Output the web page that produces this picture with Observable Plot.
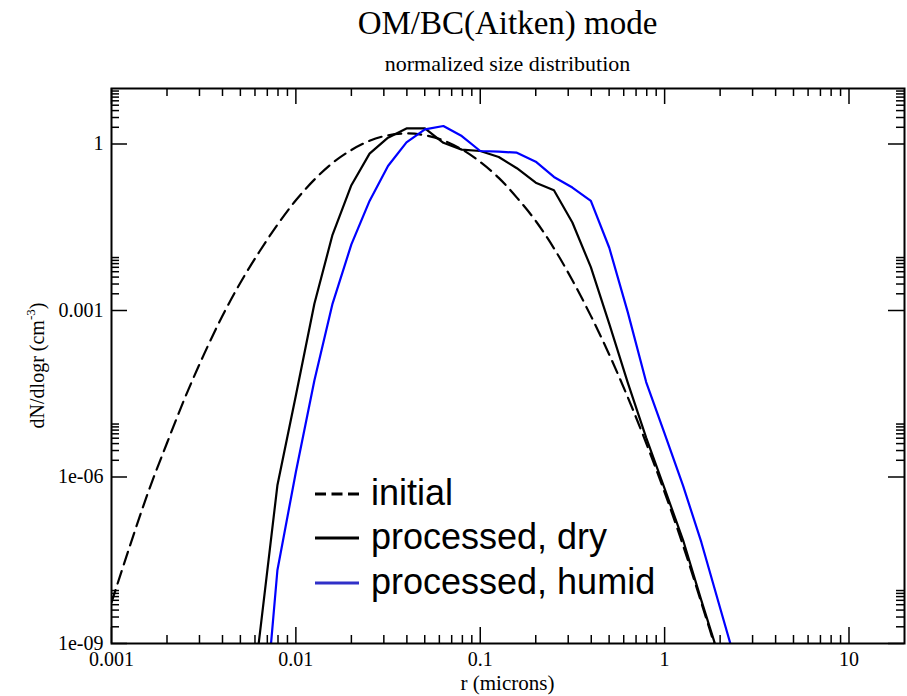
<!DOCTYPE html>
<html><head><meta charset="utf-8">
<script src="https://cdn.jsdelivr.net/npm/d3@7"></script>
<script src="https://cdn.jsdelivr.net/npm/@observablehq/plot@0.6"></script>
<style>html,body{margin:0;padding:0;background:#fff;} #chart{width:907px;height:696px;}</style>
</head><body><div id="chart"></div>
<script>
// radius (microns) at which the curves were read
const r = [0.001, 0.00126, 0.00158, 0.002, 0.00251, 0.00316, 0.00398, 0.00501, 0.00631, 0.00794,
  0.01, 0.0126, 0.0158, 0.02, 0.0251, 0.0316, 0.0398, 0.0501, 0.0631, 0.0794,
  0.1, 0.126, 0.158, 0.2, 0.251, 0.316, 0.398, 0.501, 0.631, 0.794,
  1, 1.26, 1.58, 2, 2.51];
// dN/dlogr
const initial = [5.5e-9, 5.8e-8, 5.3e-7, 4.1e-6, 2.74e-5, 1.57e-4, 7.8e-4, 3.2e-3, 0.0112, 0.035,
  0.097, 0.228, 0.455, 0.78, 1.14, 1.436, 1.549, 1.44, 1.16, 0.80,
  0.475, 0.245, 0.108, 0.041, 0.0132, 3.5e-3, 8.0e-4, 1.6e-4, 2.74e-5, 4.1e-6,
  5.3e-7, 5.8e-8, 5.5e-9, 4.5e-10, null];
const dry = [null, null, null, null, null, null, null, 1e-12, 1.12e-9, 7.08e-7,
  2.95e-5, 1.32e-3, 0.0231, 0.181, 0.67, 1.30, 1.91, 1.91, 1.05, 0.791,
  0.748, 0.583, 0.366, 0.201, 0.147, 0.0385, 6.03e-3, 5.75e-4, 5.01e-5, 5.13e-6,
  6.17e-7, 7.24e-8, 6.03e-9, 5.0e-10, null];
const humid = [null, null, null, null, null, null, null, null, 3.2e-12, 2.09e-8,
  1.23e-6, 5.5e-5, 1.32e-3, 0.0155, 0.0944, 0.402, 1.07, 1.84, 2.11, 1.39,
  0.748, 0.728, 0.698, 0.481, 0.255, 0.164, 0.0944, 0.0135, 9.33e-4, 5.13e-5,
  6.03e-6, 6.92e-7, 6.76e-8, 4.37e-9, 3.16e-10];

const xMajor = [0.001, 0.01, 0.1, 1, 10];
const xTickLabels = ["0.001", "0.01", "0.1", "1", "10"];
const yMajor = [1e-9, 1e-6, 1e-3, 1];
const yTickLabels = ["1e-09", "1e-06", "0.001", "1"];
const minorMultipliers = [2, 3, 4, 5, 6, 7, 8, 9];
const seriesNames = ["initial", "processed, dry", "processed, humid"];
const titleText = "OM/BC(Aitken) mode";
const subtitleText = "normalized size distribution";
const xLabelText = "r (microns)";

const W = 907, H = 696, mL = 111, mR = 3, mT = 88, mB = 53;
const fw = W - mL - mR, fh = H - mT - mB;
const serif = "'Liberation Serif', 'Times New Roman', serif";
const sans = "'Liberation Sans', Arial, sans-serif";
const blue = "#0000ff";

const rows = r.map((d, i) => ({r: d, initial: initial[i], dry: dry[i], humid: humid[i]}));
const xMinor = xMajor.flatMap(m => minorMultipliers.map(k => k * m)).filter(v => v < 20);
const yMinor = yMajor.flatMap(m => minorMultipliers.map(k => k * m));

const tickW = 1.5;
const svg = Plot.plot({
  width: W, height: H,
  marginLeft: mL, marginRight: mR, marginTop: mT, marginBottom: mB,
  style: {fontFamily: serif, fontSize: "20px", background: "#fff", color: "#000"},
  x: {type: "log", domain: [0.001, 20], axis: null},
  y: {type: "log", domain: [1e-9, 10], axis: null},
  marks: [
    Plot.line(rows.filter(d => d.initial != null), {x: "r", y: "initial", stroke: "#000", strokeWidth: 2.2, strokeDasharray: "13,7", curve: "catmull-rom", clip: true}),
    Plot.line(rows.filter(d => d.dry != null), {x: "r", y: "dry", stroke: "#000", strokeWidth: 2.2, clip: true}),
    Plot.line(rows.filter(d => d.humid != null), {x: "r", y: "humid", stroke: blue, strokeWidth: 2.2, clip: true}),
    // inward ticks on all four sides
    Plot.tickX(xMajor, {x: d => d, insetTop: fh - 16, strokeWidth: tickW}),
    Plot.tickX(xMajor, {x: d => d, insetBottom: fh - 16, strokeWidth: tickW}),
    Plot.tickX(xMinor, {x: d => d, insetTop: fh - 8, strokeWidth: tickW}),
    Plot.tickX(xMinor, {x: d => d, insetBottom: fh - 8, strokeWidth: tickW}),
    Plot.tickY(yMajor, {y: d => d, insetRight: fw - 16, strokeWidth: tickW}),
    Plot.tickY(yMajor, {y: d => d, insetLeft: fw - 16, strokeWidth: tickW}),
    Plot.tickY(yMinor, {y: d => d, insetRight: fw - 8, strokeWidth: tickW}),
    Plot.tickY(yMinor, {y: d => d, insetLeft: fw - 8, strokeWidth: tickW}),
    Plot.frame({stroke: "#000", strokeWidth: 2}),
    Plot.text(xMajor, {x: d => d, text: (d, i) => xTickLabels[i], frameAnchor: "bottom", lineAnchor: "top", dy: 8, fontSize: 20, fill: "#000"}),
    Plot.text(yMajor, {y: d => d, text: (d, i) => yTickLabels[i], frameAnchor: "left", textAnchor: "end", dx: -8, fontSize: 20, fill: "#000"})
  ]
});

const s = d3.select(svg);
const cx = mL + fw / 2;
s.append("text").attr("x", cx).attr("y", 34).attr("text-anchor", "middle")
  .attr("font-family", serif).attr("font-size", 33).attr("fill", "#000").text(titleText);
s.append("text").attr("x", cx).attr("y", 71).attr("text-anchor", "middle")
  .attr("font-family", serif).attr("font-size", 22).attr("fill", "#000").text(subtitleText);
s.append("text").attr("x", cx).attr("y", 690).attr("text-anchor", "middle")
  .attr("font-family", serif).attr("font-size", 21).attr("fill", "#000").text(xLabelText);
const yl = s.append("text").attr("transform", `translate(44,${mT + fh / 2}) rotate(-90)`)
  .attr("text-anchor", "middle").attr("font-family", serif).attr("font-size", 20).attr("fill", "#000");
yl.append("tspan").text("dN/dlogr (cm");
yl.append("tspan").attr("dy", -9).attr("font-size", 13).text("-3");
yl.append("tspan").attr("dy", 9).text(")");

// legend overlay
const legY = [494, 538, 583];
const legStyles = [
  {stroke: "#000", dash: "11,5.5"},
  {stroke: "#000", dash: null},
  {stroke: "#3030c8", dash: null}
];
seriesNames.forEach((name, i) => {
  const ln = s.append("line").attr("x1", 315).attr("x2", 359).attr("y1", legY[i]).attr("y2", legY[i])
    .attr("stroke", legStyles[i].stroke).attr("stroke-width", 3.2);
  if (legStyles[i].dash) ln.attr("stroke-dasharray", legStyles[i].dash);
  s.append("text").attr("x", 371).attr("y", legY[i] + 11).attr("text-anchor", "start").attr("font-family", sans)
    .attr("font-size", 36).attr("fill", "#000").text(name);
});

document.getElementById("chart").appendChild(svg);
</script>
</body></html>
